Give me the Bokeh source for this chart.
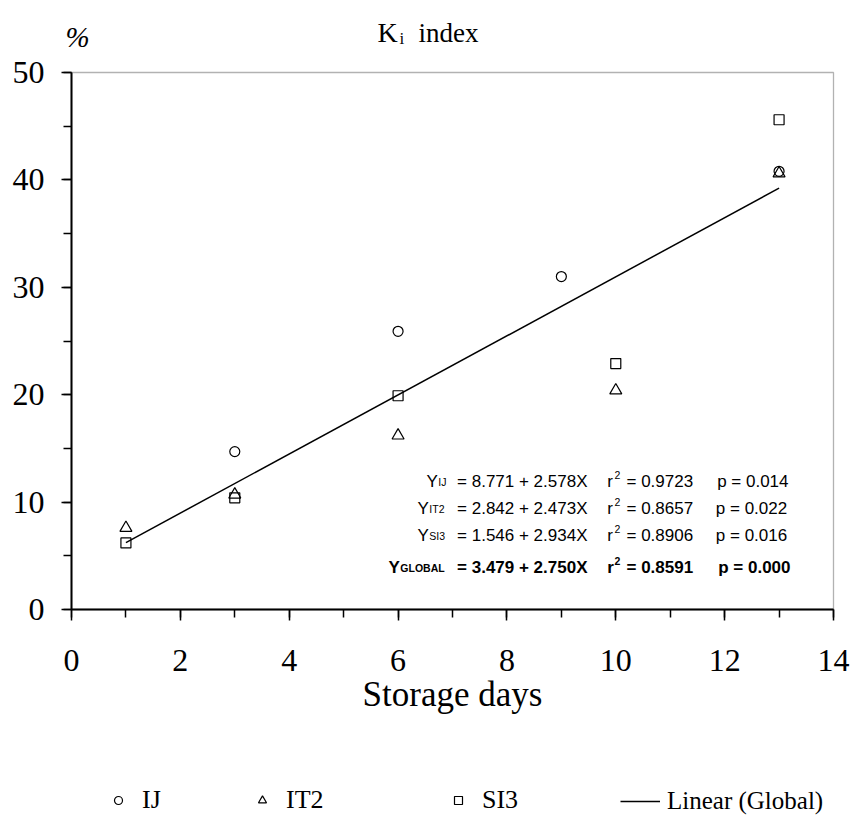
from bokeh.plotting import figure
from bokeh.models import (Range1d, SingleIntervalTicker, Label, Legend, LegendItem,
                          BoxAnnotation)
from bokeh.embed import file_html
from bokeh.resources import INLINE

# ---- data ----
days_ij = [3, 6, 9, 13]
ki_ij = [14.7, 25.9, 31.0, 40.8]
days_it2 = [1, 3, 6, 10, 13]
ki_it2 = [7.6, 10.7, 16.2, 20.4, 40.6]
days_si3 = [1, 3, 6, 10, 13]
ki_si3 = [6.2, 10.4, 19.9, 22.9, 45.6]

global_intercept = 3.479
global_slope = 2.750
fit_days = [1, 13]

eq_subs = ["IJ", "IT2", "SI3", "GLOBAL"]
eq_rhs = ["= 8.771 + 2.578X", "= 2.842 + 2.473X", "= 1.546 + 2.934X", "= 3.479 + 2.750X"]
eq_r2 = ["= 0.9723", "= 0.8657", "= 0.8906", "= 0.8591"]
eq_p = ["p = 0.014", "p = 0.022", "p = 0.016", "p = 0.000"]

legend_labels = ["IJ", "IT2", "SI3", "Linear (Global)"]

# ---- layout constants (page pixels) ----
W, H = 852, 829
FL, FR, FT, FB = 71, 833, 72, 609      # where the 0..14 x 0..50 box sits
XMAX, YMAX = 14, 50

serif = "Liberation Serif"
sans = "Liberation Sans"


def dx(cx):
    return (cx - FL) * XMAX / (FR - FL)


def dy(cy):
    return (FB - cy) * YMAX / (FB - FT)


p = figure(width=W, height=H,
           x_range=Range1d(dx(0), dx(W)), y_range=Range1d(dy(H), dy(0)),
           output_backend="svg", toolbar_location=None, min_border=0)
p.background_fill_color = "white"
p.border_fill_color = "white"
p.outline_line_color = None
p.xgrid.visible = False
p.ygrid.visible = False

# axes placed at the data origin, limited to the data box
p.xaxis.fixed_location = 0
p.yaxis.fixed_location = 0
p.xaxis.bounds = (0, XMAX)
p.yaxis.bounds = (0, YMAX)
p.xaxis.ticker = SingleIntervalTicker(interval=2, num_minor_ticks=2)
p.yaxis.ticker = SingleIntervalTicker(interval=10, num_minor_ticks=2)
for ax in (p.xaxis, p.yaxis):
    ax.axis_line_width = 2
    ax.axis_line_color = "black"
    ax.major_tick_in = 0
    ax.minor_tick_in = 0
    ax.major_tick_line_width = 1.5
    ax.minor_tick_line_width = 1.5
    ax.major_tick_line_color = "black"
    ax.minor_tick_line_color = "black"
    ax.major_label_text_font = serif
    ax.major_label_text_font_size = "32px"
    ax.major_label_text_color = "black"
p.yaxis.major_tick_out = 10
p.yaxis.minor_tick_out = 8
p.yaxis.major_label_standoff = 17
p.xaxis.major_tick_out = 11
p.xaxis.minor_tick_out = 8
p.xaxis.major_label_standoff = 29
p.xaxis.axis_label = "Storage days"
p.xaxis.axis_label_text_font = serif
p.xaxis.axis_label_text_font_size = "35px"
p.xaxis.axis_label_text_font_style = "normal"
p.xaxis.axis_label_text_color = "black"
p.xaxis.axis_label_standoff = 1

# top and right sides of the data box
p.add_layout(BoxAnnotation(left=0, right=XMAX, bottom=0, top=YMAX,
                           fill_alpha=0, line_color="black", line_width=1.3))

fit_vals = [global_intercept + global_slope * d for d in fit_days]
r_line = p.line(fit_days, fit_vals, line_color="black", line_width=1.5)
r_ij = p.scatter(days_ij, ki_ij, marker="circle", size=10, fill_color=None,
                 line_color="black", line_width=1.2)
r_it2 = p.scatter(days_it2, ki_it2, marker="triangle", size=12, fill_color=None,
                  line_color="black", line_width=1.2)
r_si3 = p.scatter(days_si3, ki_si3, marker="square", size=10, fill_color=None,
                  line_color="black", line_width=1.2)


def lab(cx, cy, text, font, size, style="normal", align="left"):
    p.add_layout(Label(x=dx(cx), y=dy(cy), text=text, text_font=font,
                       text_font_size=size, text_font_style=style,
                       text_color="black", text_align=align,
                       text_baseline="alphabetic"))


# ---- title and unit ----
lab(377, 32, "K", serif, "28px")
lab(399, 38, "i", serif, "17px")
lab(418, 32, "index", serif, "27px")
lab(65, 36, "%", serif, "29px", "italic")

# ---- equations block ----
fs = "17px"
ss = "10.5px"
rows_base = [481.3, 508, 535, 566.7]
y_start = [426, 417, 417, 388]
p_right = [788, 786.7, 786.7, 790]
for i in range(4):
    st = "bold" if i == 3 else "normal"
    b = rows_base[i]
    lab(y_start[i], b, "Y", sans, fs, st)
    lab(y_start[i] + 11.8, b + 0.5, eq_subs[i], sans, ss, st)
    lab(587, b, eq_rhs[i], sans, fs, st, "right")
    lab(606.7, b, "r", sans, fs, st)
    lab(614, b - 6.5, "2", sans, ss, st)
    lab(626, b, eq_r2[i], sans, fs, st)
    lab(p_right[i], b, eq_p[i], sans, fs, st, "right")

# ---- legend: one item each, placed along the bottom ----
leg_specs = [(r_ij, legend_labels[0], 108, 20, 14, "26px"),
             (r_it2, legend_labels[1], 252, 20, 14, "26px"),
             (r_si3, legend_labels[2], 448, 20, 14, "26px"),
             (r_line, legend_labels[3], 620, 40, 7, "25px")]
for rend, text, vx, gw, so, lsz in leg_specs:
    lg = Legend(items=[LegendItem(label=text, renderers=[rend])], location=(vx, 14),
                orientation="horizontal", padding=0, margin=0, spacing=0,
                glyph_width=gw, glyph_height=20, label_standoff=so,
                label_text_font=serif, label_text_font_size=lsz,
                label_text_color="black", border_line_alpha=0,
                background_fill_alpha=0)
    p.add_layout(lg)

open("out.html", "w").write(file_html(p, INLINE))
